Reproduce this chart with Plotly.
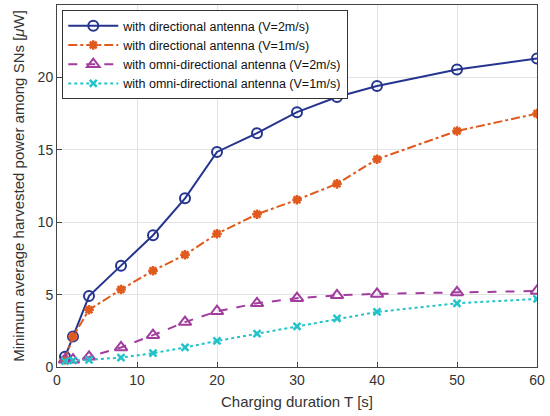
import plotly.graph_objects as go

T = [1, 2, 4, 8, 12, 16, 20, 25, 30, 35, 40, 50, 60]
dir_v2 = [0.7, 2.1, 4.9, 7.0, 9.1, 11.65, 14.85, 16.15, 17.6, 18.65, 19.4, 20.55, 21.3]
dir_v1 = [0.5, 2.1, 3.95, 5.35, 6.65, 7.75, 9.2, 10.55, 11.55, 12.65, 14.35, 16.3, 17.5]
omni_v2 = [0.5, 0.5, 0.7, 1.35, 2.2, 3.1, 3.85, 4.4, 4.75, 4.95, 5.05, 5.15, 5.25]
omni_v1 = [0.4, 0.45, 0.5, 0.65, 0.95, 1.35, 1.8, 2.3, 2.8, 3.35, 3.8, 4.4, 4.7]

names = ["with directional antenna (V=2m/s)",
         "with directional antenna (V=1m/s)",
         "with omni-directional antenna (V=2m/s)",
         "with omni-directional antenna (V=1m/s)"]

fig = go.Figure()
fig.add_trace(go.Scatter(x=T, y=dir_v2, name=names[0], mode="lines+markers",
    line=dict(color="#25358f", width=2, dash="solid"),
    marker=dict(symbol="circle-open", size=10, color="#25358f", line=dict(width=2))))
fig.add_trace(go.Scatter(x=T, y=dir_v1, name=names[1], mode="lines+markers",
    line=dict(color="#e05a1e", width=2, dash="dashdot"),
    marker=dict(symbol="asterisk-open", size=8, color="#e05a1e", line=dict(width=2.5, color="#e05a1e"))))
fig.add_trace(go.Scatter(x=T, y=omni_v2, name=names[2], mode="lines+markers",
    line=dict(color="#a23c9e", width=2, dash="dash"),
    marker=dict(symbol="triangle-up-open", size=11, color="#a23c9e", line=dict(width=2))))
fig.add_trace(go.Scatter(x=T, y=omni_v1, name=names[3], mode="lines+markers",
    line=dict(color="#22c3c8", width=2, dash="dot"),
    marker=dict(symbol="x-thin-open", size=7, color="#22c3c8", line=dict(width=2.5, color="#22c3c8"))))

axis_common = dict(showline=True, linecolor="#444", linewidth=1, mirror=True,
                   showgrid=True, gridcolor="#e3e3e3", gridwidth=1, zeroline=False,
                   ticks="inside", ticklen=5, tickcolor="#444", automargin=False,
                   tickfont=dict(family="Liberation Sans, Arial", size=14, color="#333"))
fig.update_xaxes(range=[0, 60], dtick=10,
                 title=dict(text="Charging duration T [s]", standoff=9,
                            font=dict(family="Liberation Sans, Arial", size=15, color="#333")),
                 **axis_common)
fig.update_yaxes(range=[0, 25], dtick=5,
                 title=dict(text="Minimum average harvested power among SNs [<i>μ</i>W]", standoff=9,
                            font=dict(family="Liberation Sans, Arial", size=15, color="#333")),
                 **axis_common)

fig.update_layout(width=550, height=416, plot_bgcolor="white", paper_bgcolor="white",
    margin=dict(l=57, r=13, t=5, b=49),
    legend=dict(x=0.011, y=0.986, xanchor="left", yanchor="top",
                bgcolor="white", bordercolor="#333", borderwidth=1,
                font=dict(family="Liberation Sans, Arial", size=12.5, color="#111"),
                tracegroupgap=0, itemwidth=50),
    showlegend=True)

fig.write_html("out.html", config={"displayModeBar": False},
               post_script="document.body.style.margin='0';document.body.style.padding='0';")
